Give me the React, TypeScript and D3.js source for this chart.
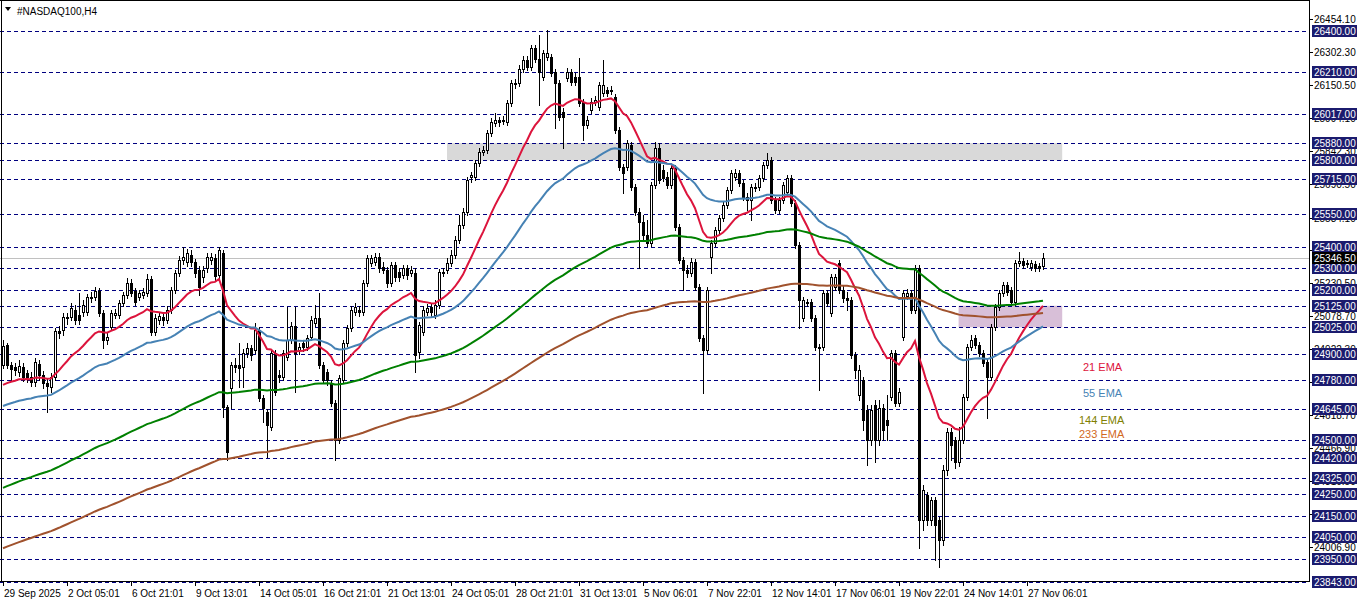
import React from 'react';
import * as d3 from 'd3';

// ---- DATA (NASDAQ100 H4) ----
const opens = [
  24850, 24943, 24850, 24841, 24818, 24841, 24813, 24795, 24772, 24855,
  24804, 24767, 24748, 24795, 25008, 25013, 25073, 25073, 25106, 25082,
  25096, 25096, 25166, 25166, 25194, 25092, 24966, 25027, 25082, 25082,
  25138, 25175, 25231, 25194, 25166, 25175, 25184, 25249, 25004, 25059,
  25073, 25059, 25106, 25198, 25277, 25338, 25328, 25361, 25328, 25291,
  25259, 25301, 25338, 25347, 25268, 25370, 24656, 24744, 24850, 24850,
  24841, 24906, 24929, 24920, 25013, 24697, 24632, 24563, 24906, 24804,
  24795, 24888, 24966, 25031, 24920, 24952, 24934, 24980, 25045, 25068,
  24850, 24818, 24767, 24674, 24502, 24781, 24952, 25022, 25096, 25106,
  25096, 25231, 25324, 25328, 25352, 25305, 25291, 25231, 25314, 25282,
  25268, 25301, 25277, 25277, 24911, 25004, 25096, 25120, 25082, 25129,
  25277, 25291, 25324, 25361, 25430, 25500, 25560, 25723, 25723, 25788,
  25839, 25848, 25927, 25973, 25987, 25983, 25978, 26066, 26154, 26159,
  26224, 26266, 26233, 26321, 26270, 26187, 26280, 26280, 26210, 26159,
  26024, 26182, 26210, 26187, 26187, 26071, 25964, 26034, 26071, 26048,
  26112, 26126, 26126, 26094, 25941, 25769, 25769, 25871, 25676, 25560,
  25514, 25454, 25417, 25686, 25857, 25755, 25723, 25686, 25764, 25491,
  25338, 25291, 25277, 25328, 25212, 24976, 24920, 25352, 25417, 25477,
  25532, 25593, 25662, 25723, 25741, 25695, 25630, 25616, 25672, 25676,
  25718, 25778, 25802, 25616, 25570, 25616, 25653, 25718, 25602, 25407,
  25068, 25143, 25143, 25068, 24934, 24934, 25184, 25092, 25212, 25324,
  25198, 25161, 25152, 24897, 24711, 24781, 24642, 24502, 24665, 24502,
  24651, 24595, 24702, 24906, 24674, 24980, 25171, 25184, 25106, 25301,
  24131, 24247, 24131, 24224, 24131, 24038, 24363, 24540, 24502, 24400,
  24502, 24702, 24934, 24976, 24943, 24906, 24864, 24795, 25027, 25120,
  25184, 25222, 25198, 25143, 25324, 25333, 25324, 25305, 25319, 25310,
  25310,
];
const highs = [
  24966, 24952, 24864, 24860, 24874, 24860, 24827, 24818, 24883, 24874,
  24822, 24790, 24813, 25022, 25031, 25092, 25092, 25138, 25129, 25184,
  25152, 25180, 25189, 25212, 25208, 25106, 24999, 25106, 25110, 25152,
  25189, 25254, 25249, 25208, 25198, 25208, 25273, 25263, 25087, 25096,
  25087, 25124, 25212, 25291, 25356, 25398, 25389, 25384, 25342, 25310,
  25310, 25370, 25370, 25365, 25398, 25384, 24665, 24864, 24883, 24952,
  24925, 24952, 24943, 25045, 25027, 24711, 24646, 24920, 24920, 24827,
  24920, 25120, 25050, 25120, 24952, 24966, 24990, 25078, 25129, 25184,
  24864, 24832, 24781, 24688, 24804, 24966, 25036, 25124, 25138, 25124,
  25245, 25361, 25361, 25370, 25370, 25328, 25305, 25328, 25328, 25301,
  25314, 25314, 25310, 25301, 25050, 25124, 25133, 25138, 25152, 25296,
  25301, 25347, 25384, 25449, 25546, 25579, 25723, 25746, 25802, 25857,
  25867, 25941, 25997, 26020, 26001, 26006, 26080, 26173, 26177, 26242,
  26284, 26284, 26335, 26335, 26382, 26312, 26405, 26293, 26224, 26173,
  26043, 26228, 26224, 26205, 26275, 26085, 26006, 26089, 26099, 26164,
  26266, 26140, 26145, 26108, 25955, 25783, 25894, 25885, 25690, 25579,
  25546, 25523, 25700, 25885, 25881, 25778, 25746, 25778, 25778, 25505,
  25352, 25314, 25347, 25342, 25226, 24990, 25212, 25430, 25491, 25546,
  25607, 25676, 25755, 25760, 25755, 25709, 25648, 25690, 25695, 25732,
  25792, 25834, 25816, 25630, 25630, 25700, 25732, 25732, 25616, 25421,
  25166, 25157, 25157, 25082, 24948, 25198, 25198, 25273, 25273, 25338,
  25222, 25189, 25166, 24911, 24850, 24795, 24665, 24665, 24688, 24688,
  24669, 24711, 24920, 24920, 24744, 25198, 25203, 25198, 25314, 25314,
  24294, 24261, 24238, 24238, 24145, 24386, 24558, 24558, 24516, 24563,
  24716, 24948, 24990, 24990, 24957, 24920, 24878, 25041, 25133, 25198,
  25236, 25236, 25212, 25338, 25375, 25347, 25338, 25338, 25333, 25324,
  25370,
];
const lows = [
  24836, 24836, 24781, 24804, 24799, 24776, 24772, 24753, 24753, 24781,
  24744, 24632, 24725, 24781, 24976, 24990, 25041, 25059, 25041, 25041,
  25078, 25082, 25143, 25152, 25078, 24929, 24948, 25013, 25068, 25068,
  25124, 25161, 25171, 25129, 25152, 25161, 25171, 24990, 24990, 25041,
  25036, 25045, 25092, 25184, 25263, 25319, 25310, 25310, 25259, 25175,
  25236, 25282, 25319, 25245, 25254, 24609, 24410, 24651, 24818, 24748,
  24748, 24888, 24874, 24906, 24683, 24586, 24424, 24549, 24711, 24772,
  24781, 24874, 24952, 24725, 24901, 24915, 24920, 24966, 25031, 24836,
  24767, 24758, 24660, 24410, 24488, 24767, 24939, 25008, 25082, 25078,
  25082, 25217, 25310, 25314, 25282, 25277, 25212, 25217, 25240, 25240,
  25254, 25249, 25263, 24818, 24883, 24990, 25082, 25078, 25068, 25115,
  25263, 25277, 25310, 25347, 25417, 25486, 25546, 25700, 25709, 25774,
  25825, 25834, 25913, 25959, 25959, 25969, 25964, 26052, 26136, 26145,
  26210, 26219, 26219, 26256, 26057, 26173, 26266, 26191, 25950, 25987,
  25857, 26168, 26150, 26150, 26052, 25894, 25950, 26020, 26057, 26034,
  26099, 26099, 26108, 25927, 25755, 25648, 25755, 25662, 25546, 25301,
  25430, 25403, 25403, 25672, 25695, 25704, 25672, 25672, 25477, 25324,
  25198, 25259, 25263, 25198, 24962, 24720, 24906, 25277, 25403, 25463,
  25519, 25579, 25648, 25709, 25681, 25616, 25570, 25523, 25658, 25662,
  25704, 25764, 25602, 25556, 25556, 25602, 25639, 25588, 25393, 25022,
  25055, 25124, 25055, 24920, 24734, 24920, 25124, 25078, 25198, 25184,
  25143, 25106, 24883, 24790, 24688, 24549, 24386, 24479, 24400, 24479,
  24502, 24502, 24688, 24660, 24660, 24966, 25157, 25092, 25092, 24001,
  24085, 24108, 24108, 23946, 23913, 24015, 24340, 24410, 24372, 24382,
  24488, 24688, 24920, 24929, 24892, 24846, 24604, 24781, 25013, 25106,
  25171, 25175, 25129, 25129, 25310, 25301, 25305, 25291, 25287, 25287,
  25296,
];
const closes = [
  24939, 24850, 24832, 24827, 24846, 24795, 24795, 24772, 24864, 24804,
  24767, 24753, 24795, 25008, 24999, 25073, 25068, 25115, 25059, 25059,
  25129, 25166, 25161, 25194, 25092, 24966, 24980, 25092, 25092, 25138,
  25175, 25231, 25184, 25143, 25184, 25189, 25249, 25004, 25068, 25078,
  25059, 25106, 25198, 25277, 25338, 25352, 25370, 25328, 25277, 25212,
  25291, 25352, 25352, 25263, 25384, 24656, 24447, 24850, 24841, 24836,
  24906, 24929, 24897, 25013, 24697, 24651, 24572, 24906, 24725, 24795,
  24906, 24966, 25031, 24906, 24934, 24934, 24976, 25059, 25068, 24850,
  24781, 24781, 24674, 24502, 24790, 24952, 25022, 25106, 25120, 25096,
  25231, 25347, 25347, 25352, 25301, 25291, 25231, 25314, 25259, 25259,
  25301, 25268, 25291, 24897, 25036, 25106, 25115, 25096, 25129, 25282,
  25282, 25324, 25361, 25430, 25500, 25560, 25709, 25732, 25788, 25839,
  25848, 25927, 25978, 25987, 25978, 25987, 26066, 26159, 26159, 26224,
  26266, 26233, 26321, 26270, 26210, 26298, 26298, 26205, 26159, 26001,
  26001, 26210, 26164, 26164, 26066, 25964, 25987, 26071, 26080, 26150,
  26150, 26112, 26126, 25941, 25769, 25741, 25881, 25676, 25560, 25514,
  25454, 25417, 25686, 25857, 25709, 25718, 25686, 25764, 25491, 25338,
  25291, 25277, 25328, 25212, 24976, 24920, 25198, 25417, 25477, 25532,
  25593, 25662, 25741, 25741, 25695, 25630, 25616, 25676, 25676, 25718,
  25778, 25802, 25616, 25570, 25616, 25686, 25718, 25602, 25407, 25152,
  25152, 25138, 25068, 24934, 24934, 25184, 25138, 25259, 25259, 25198,
  25161, 25152, 24897, 24827, 24827, 24595, 24502, 24642, 24502, 24651,
  24549, 24572, 24906, 24674, 24725, 25184, 25184, 25106, 25301, 24131,
  24270, 24131, 24224, 24108, 24038, 24363, 24540, 24479, 24400, 24502,
  24702, 24934, 24966, 24943, 24906, 24860, 24795, 25027, 25120, 25184,
  25222, 25189, 25143, 25324, 25333, 25314, 25319, 25324, 25301, 25301,
  25346.5,
];

const timeLabels = [
  '29 Sep 2025', '2 Oct 05:01', '6 Oct 21:01', '9 Oct 13:01', '14 Oct 05:01',
  '16 Oct 21:01', '21 Oct 13:01', '24 Oct 05:01', '28 Oct 21:01', '31 Oct 13:01',
  '5 Nov 06:01', '7 Nov 22:01', '12 Nov 14:01', '17 Nov 06:01', '19 Nov 22:01',
  '24 Nov 14:01', '27 Nov 06:01',
];
const barsPerLabel = 16;

const levelLines = [
  26400, 26210, 26017, 25880, 25800, 25715, 25550, 25400, 25300, 25200, 25125,
  25025, 24900, 24780, 24645, 24500, 24420, 24325, 24250, 24150, 24050, 23950, 23843,
];
const scaleLabels = [
  26454.1, 26302.3, 26150.5, 25994.1, 25842.3, 25690.5, 25534.1, 25382.3, 25230.5,
  25078.7, 24922.3, 24770.5, 24618.7, 24466.9, 24310.5, 24158.7, 24006.9,
];
const lastPrice = 25346.5;

const emaPeriods = [21, 55, 144, 233];
const emaStart = [24758, 24660, 24280, 24000];
const emaNames = ['21 EMA', '55 EMA', '144 EMA', '233 EMA'];
const emaLabelBar = [270, 270, 269, 269];
const emaLabelPrice = [24841, 24720, 24595, 24530];

const zoneFrom = [111, 238.9];
const zoneTo = [264.8, 264.8];
const zoneHigh = [25880, 25125];
const zoneLow = [25800, 25025];

// ---- STYLE ----
const emaColors = ['#DC143C', '#4682B4', '#008000', '#A0522D'];
const emaTextColors = ['#DC143C', '#4682B4', '#808000', '#D2691E'];
const zoneColors = ['#D9D9D9', '#D8BFD8'];
const navy = '#000080';
const boxNavy = '#1B1B6E';
const FONT = 'Liberation Sans, Arial, sans-serif';

export default function App() {
  const W = 1362;
  const H = 603;
  const N = Math.min(opens.length, highs.length, lows.length, closes.length);
  const plotRight = 1309;
  const plotBottom = 581;

  const x = d3.scaleLinear().domain([0, N - 1]).range([3, 3 + 4 * (N - 1)]);
  const y = d3.scaleLinear().domain([23950, 26400]).range([559, 31]);

  const emas = emaPeriods.map((p, k) => {
    const a = 2 / (p + 1);
    const out: number[] = [];
    let e = emaStart[k];
    for (let i = 0; i < N; i++) {
      if (i > 0) e = e + a * (closes[i] - e);
      out.push(e);
    }
    return out;
  });

  const line = d3
    .line<number>()
    .x((_, i) => x(i))
    .y((d) => y(d));

  const candles = [];
  for (let i = 0; i < N; i++) {
    const cx = Math.round(x(i));
    const o = opens[i];
    const c = closes[i];
    const yh = Math.round(y(highs[i]));
    const yl = Math.round(y(lows[i]));
    const yt = Math.round(y(Math.max(o, c)));
    const yb = Math.round(y(Math.min(o, c)));
    const bh = Math.max(1, yb - yt);
    const bull = c > o;
    candles.push(
      <g key={i}>
        <line x1={cx + 0.5} x2={cx + 0.5} y1={yh} y2={yl + 1} stroke="#000" strokeWidth={1} />
        <rect x={cx - 1} y={yt} width={3} height={bh + 1} fill="#000" />
        {bull && bh > 1 ? <rect x={cx} y={yt + 1} width={1} height={bh - 1} fill="#fff" /> : null}
      </g>
    );
  }

  const ticks = timeLabels.map((t, k) => ({ t, xi: Math.round(x(k * barsPerLabel)) }));

  return (
    <div style={{ position: 'absolute', left: 0, top: 0, width: W, height: H }}>
      <svg width={W} height={H} style={{ display: 'block' }} fontFamily={FONT}>
        <rect x={0} y={0} width={W} height={H} fill="#fff" />
        {zoneFrom.map((f, k) => (
          <rect
            key={'z' + k}
            x={x(f)}
            y={y(zoneHigh[k])}
            width={x(zoneTo[k]) - x(f)}
            height={y(zoneLow[k]) - y(zoneHigh[k])}
            fill={zoneColors[k]}
          />
        ))}
        {levelLines.map((v) => (
          <line
            key={'l' + v}
            x1={0}
            x2={plotRight}
            y1={Math.round(y(v)) + 0.5}
            y2={Math.round(y(v)) + 0.5}
            stroke={navy}
            strokeWidth={1}
            strokeDasharray="4,3"
          />
        ))}
        <line
          x1={0}
          x2={plotRight}
          y1={Math.round(y(lastPrice)) + 0.5}
          y2={Math.round(y(lastPrice)) + 0.5}
          stroke="#C0C0C0"
          strokeWidth={1}
        />
        {candles}
        {emas.map((e, k) => (
          <path key={'e' + k} d={line(e) || ''} fill="none" stroke={emaColors[k]} strokeWidth={2} />
        ))}
        {emaNames.map((n, k) => (
          <text
            key={'n' + k}
            x={x(emaLabelBar[k])}
            y={y(emaLabelPrice[k]) + 4}
            fontSize={11}
            fill={emaTextColors[k]}
          >
            {n}
          </text>
        ))}
        {/* frame */}
        <line x1={plotRight + 0.5} x2={plotRight + 0.5} y1={0} y2={plotBottom + 1} stroke="#000" />
        <line x1={0} x2={plotRight + 1} y1={plotBottom + 0.5} y2={plotBottom + 0.5} stroke="#000" />
        <line x1={1.5} x2={1.5} y1={0} y2={plotBottom} stroke="#000" />
        <line x1={0} x2={plotRight} y1={0.5} y2={0.5} stroke="#000" />
        {/* right scale */}
        {scaleLabels.map((v) => (
          <g key={'s' + v}>
            <line x1={plotRight} x2={plotRight + 4} y1={Math.round(y(v)) + 0.5} y2={Math.round(y(v)) + 0.5} stroke="#000" />
            <text x={1314} y={y(v) + 4} fontSize={10} fill="#000">
              {v.toFixed(2)}
            </text>
          </g>
        ))}
        {levelLines.map((v) => (
          <g key={'b' + v}>
            <rect x={1312} y={Math.round(y(v)) - 6} width={45} height={12} fill={boxNavy} />
            <text x={1314} y={Math.round(y(v)) + 4} fontSize={10} fill="#fff">
              {v.toFixed(2)}
            </text>
          </g>
        ))}
        <rect x={1312} y={Math.round(y(lastPrice)) - 6} width={45} height={12} fill="#000" />
        <text x={1314} y={Math.round(y(lastPrice)) + 4} fontSize={10} fill="#fff">
          {lastPrice.toFixed(2)}
        </text>
        {/* time axis */}
        {ticks.map((tk) => (
          <g key={'t' + tk.t}>
            <line x1={tk.xi + 0.5} x2={tk.xi + 0.5} y1={plotBottom} y2={plotBottom + 5} stroke="#000" />
            <text x={tk.xi + 1} y={597} fontSize={10} fill="#000">
              {tk.t}
            </text>
          </g>
        ))}
        {/* title */}
        <path d="M5,7 L11,7 L8,11 Z" fill="#000" />
        <text x={17} y={15} fontSize={10} fill="#000">
          #NASDAQ100,H4
        </text>
      </svg>
    </div>
  );
}
